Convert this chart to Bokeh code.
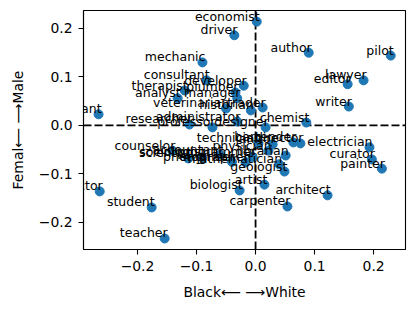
from bokeh.plotting import figure
from bokeh.models import Range1d, FixedTicker, Span, ColumnDataSource, Label
from bokeh.embed import file_html
from bokeh.resources import INLINE

occupations = ["economist", "driver", "author", "pilot", "mechanic", "lawyer", "editor",
               "consultant", "developer", "plumber", "therapist", "manager", "analyst",
               "writer", "veterinarian", "historian", "trader", "administrator",
               "researcher", "professor", "designer", "chemist", "assistant",
               "technician", "janitor", "bartender", "director", "electrician", "curator",
               "painter", "geologist", "artist", "biologist", "architect", "carpenter",
               "instructor", "student", "teacher", "counselor", "scientist", "sociologist",
               "librarian", "physician", "photographer", "accountant", "programmer",
               "mathematician", "engineer"]
race_axis = [0.002, -0.036, 0.090, 0.229, -0.090, 0.183, 0.156,
             -0.083, -0.020, -0.034, -0.120, -0.031, -0.132,
             0.158, -0.050, -0.008, 0.012, -0.031,
             -0.112, -0.073, 0.017, 0.086, -0.266,
             0.005, 0.029, 0.064, 0.076, 0.193, 0.197,
             0.214, 0.049, 0.015, -0.027, 0.122, 0.054,
             -0.264, -0.176, -0.154, -0.141, -0.114, -0.090,
             0.051, 0.022, -0.017, -0.060, -0.005,
             0.040, -0.040]
gender_axis = [0.214, 0.186, 0.150, 0.144, 0.130, 0.093, 0.085,
               0.093, 0.082, 0.068, 0.072, 0.056, 0.056,
               0.039, 0.035, 0.031, 0.037, 0.008,
               0.002, -0.004, -0.004, 0.006, 0.023,
               -0.037, -0.039, -0.035, -0.037, -0.045, -0.070,
               -0.089, -0.095, -0.122, -0.134, -0.144, -0.167,
               -0.136, -0.169, -0.233, -0.052, -0.068, -0.066,
               -0.062, -0.052, -0.076, -0.060, -0.065,
               -0.080, -0.075]
x_ticks = [-0.2, -0.1, 0.0, 0.1, 0.2]
y_ticks = [-0.2, -0.1, 0.0, 0.1, 0.2]
x_label = "Black\u27f5 \u27f6White"
y_label = "Femal\u27f5 \u27f6Male"

def fmt(v):
    s = f"{v:.1f}"
    return s.replace("-", "\u2212")

src = ColumnDataSource(dict(x=race_axis, y=gender_axis, name=occupations))

p = figure(width=411, height=306, output_backend="svg", toolbar_location=None,
           x_range=Range1d(-0.2915, 0.254), y_range=Range1d(-0.2557, 0.237),
           min_border_left=83, min_border_right=6, min_border_top=10, min_border_bottom=57)
p.grid.visible = False
p.outline_line_color = "black"
p.outline_line_width = 1.1
p.background_fill_color = "white"
p.border_fill_color = "white"

for sp in [Span(location=0, dimension="width"), Span(location=0, dimension="height")]:
    sp.line_color = "black"
    sp.line_width = 1.8
    sp.line_dash = "8 3"
    sp.level = "underlay"
    p.add_layout(sp)

p.scatter("x", "y", source=src, size=9, fill_color="#1f77b4", line_color="#1f77b4")
for name, xv, yv in zip(occupations, race_axis, gender_axis):
    lbl = Label(x=xv, y=yv, text=name, text_align="right",
                text_baseline="bottom", x_offset=3, y_offset=-2,
                text_font_size="12.5px", text_font="DejaVu Sans",
                text_color="black", level="overlay")
    if "clip" in lbl.properties():
        lbl.clip = False
    p.add_layout(lbl)

p.xaxis.ticker = FixedTicker(ticks=x_ticks)
p.yaxis.ticker = FixedTicker(ticks=y_ticks)
p.xaxis.major_label_overrides = {t: fmt(t) for t in x_ticks}
p.yaxis.major_label_overrides = {t: fmt(t) for t in y_ticks}
p.xaxis.axis_label = x_label
p.yaxis.axis_label = y_label
for ax in [p.xaxis[0], p.yaxis[0]]:
    ax.axis_line_color = "black"
    ax.axis_line_width = 1.1
    ax.major_tick_line_color = "black"
    ax.major_tick_line_width = 1.1
    ax.major_tick_in = 0
    ax.major_tick_out = 5
    ax.minor_tick_line_color = None
    ax.major_label_text_font_size = "13.9px"
    ax.major_label_text_font = "DejaVu Sans"
    ax.major_label_text_color = "black"
    ax.axis_label_text_font_size = "13.9px"
    ax.axis_label_text_font = "DejaVu Sans"
    ax.axis_label_text_font_style = "normal"
    ax.axis_label_text_color = "black"
    ax.major_label_standoff = 6
    ax.axis_label_standoff = 10
p.yaxis.major_label_orientation = "horizontal"

open("out.html", "w").write(file_html(p, INLINE))
